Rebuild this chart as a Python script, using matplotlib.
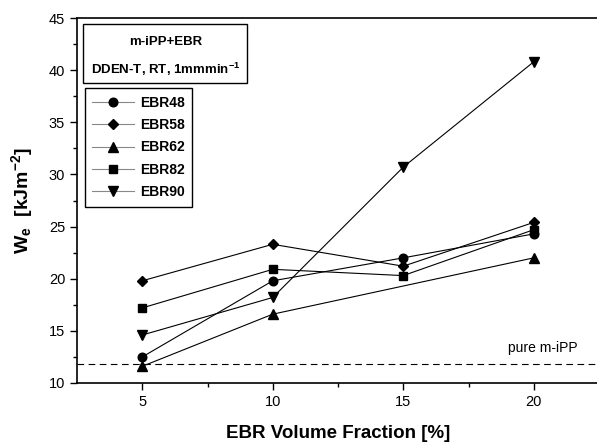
import numpy as np
import matplotlib
matplotlib.use("Agg")
import matplotlib.pyplot as plt
from matplotlib.patches import Rectangle

plt.rcParams['font.family'] = ['Liberation Sans', 'DejaVu Sans']
plt.rcParams['mathtext.fontset'] = 'custom'
plt.rcParams['mathtext.rm'] = 'Liberation Sans:bold'
plt.rcParams['mathtext.it'] = 'Liberation Sans:bold'
plt.rcParams['mathtext.bf'] = 'Liberation Sans:bold'

# data
x_all = [5, 10, 15, 20]
ebr48 = [12.5, 19.8, 22.0, 24.3]
ebr58 = [19.8, 23.3, 21.2, 25.4]
x_ebr62 = [5, 10, 20]
ebr62 = [11.6, 16.6, 22.0]
ebr82 = [17.2, 20.9, 20.3, 24.7]
ebr90 = [14.6, 18.2, 30.7, 40.8]
pure_ipp = 11.8

fig = plt.figure(figsize=(5.97, 4.47), dpi=100)
W, H = 597, 447
ax = fig.add_axes([77 / W, (H - 383) / H, (599 - 77) / W, (383 - 18) / H])

lw = 0.8
ax.plot(x_all, ebr48, '-', color='k', lw=lw, marker='o', ms=6.2, label='EBR48')
ax.plot(x_all, ebr58, '-', color='k', lw=lw, marker='D', ms=5.5, label='EBR58')
ax.plot(x_ebr62, ebr62, '-', color='k', lw=lw, marker='^', ms=6.8, label='EBR62')
ax.plot(x_all, ebr82, '-', color='k', lw=lw, marker='s', ms=5.8, label='EBR82')
ax.plot(x_all, ebr90, '-', color='k', lw=lw, marker='v', ms=6.8, label='EBR90')
ax.axhline(pure_ipp, color='k', lw=0.8, ls=(0, (6, 4)))
ax.text(20.33, pure_ipp + 0.9, 'pure m-iPP', ha='center', va='bottom', fontsize=10)

ax.set_xlim(2.5, 22.5)
ax.set_ylim(10, 45)
ax.set_xticks([5, 10, 15, 20])
ax.set_xticks([7.5, 12.5, 17.5], minor=True)
ax.set_yticks(np.arange(10, 46, 5))
ax.set_yticks(np.arange(12.5, 45, 5), minor=True)
ax.tick_params(which='major', direction='out', length=5, width=1, labelsize=10.5)
ax.tick_params(which='minor', direction='out', length=3, width=1)
ax.spines['right'].set_visible(False)
for s in ['left', 'bottom', 'top']:
    ax.spines[s].set_linewidth(1.2)

ax.set_xlabel('EBR Volume Fraction [%]', fontsize=13.5, fontweight='bold', labelpad=12)
ax.set_ylabel(r'W$_e$  [kJm$^{-2}$]', fontsize=14, fontweight='bold', labelpad=10)

# info box
ax.add_patch(Rectangle((0.0115, 0.822), 0.3145, 0.162, transform=ax.transAxes,
                       fill=False, edgecolor='k', lw=1.0, zorder=5))
ax.text(0.169, 0.935, 'm-iPP+EBR', transform=ax.transAxes, ha='center', va='center',
        fontsize=9.5, fontweight='bold')
ax.text(0.169, 0.858, r'DDEN-T, RT, 1mmmin$^{-1}$', transform=ax.transAxes,
        ha='center', va='center', fontsize=9.5, fontweight='bold')

leg = ax.legend(loc='upper left', bbox_to_anchor=(0.015, 0.808), fontsize=10,
                frameon=True, fancybox=False, edgecolor='k', framealpha=1,
                handlelength=3.0, handletextpad=0.4, labelspacing=0.6,
                borderpad=0.55, borderaxespad=0)
leg.get_frame().set_linewidth(1.0)
for t in leg.get_texts():
    t.set_fontweight('bold')
for h in leg.get_lines():
    h.set_color('#888888')
    h.set_markerfacecolor('k')
    h.set_markeredgecolor('k')

fig.savefig('out.png', dpi=100)
